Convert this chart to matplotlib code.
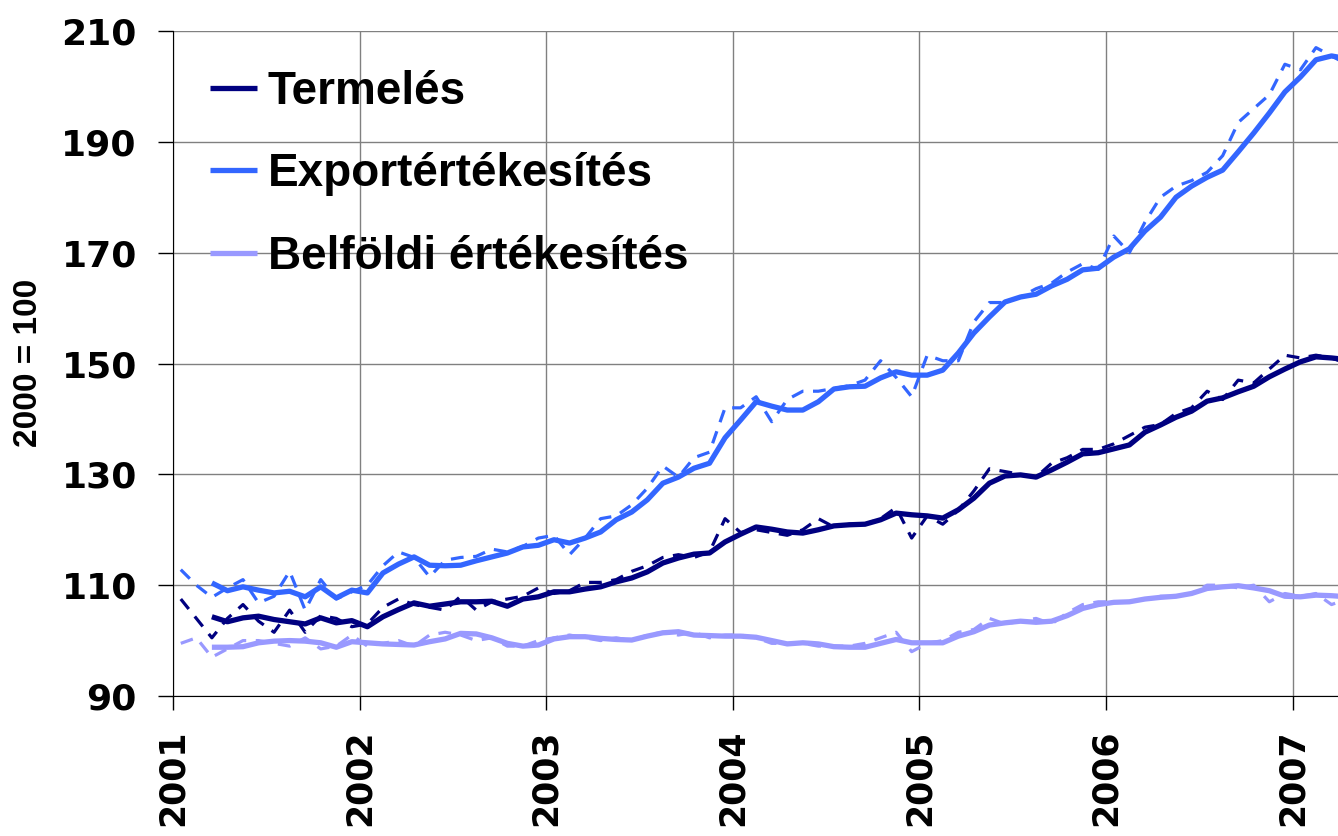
import numpy as np
import matplotlib
matplotlib.use("Agg")
import matplotlib.pyplot as plt

# monthly data, Jan 2001 .. Apr 2007 (index 2000 = 100)
start_year = 2001
trend_start = 2  # trend series begin in March 2001

termeles_raw = [107.5, 104.0, 100.5, 104.0, 106.5, 103.5, 101.5, 105.5, 101.5, 104.5, 104.0, 102.5,
                103.0, 106.0, 107.5, 106.5, 106.0, 105.5, 108.0, 105.5, 107.0, 107.5, 108.0, 109.5,
                108.5, 109.0, 110.5, 110.5, 111.0, 112.5, 113.5, 115.0, 115.5, 115.0, 116.0, 122.0,
                119.5, 120.0, 119.5, 119.0, 120.0, 122.0, 120.5, 121.0, 121.0, 122.0, 124.0, 118.5,
                122.5, 121.0, 123.5, 127.0, 131.0, 130.5, 130.0, 129.5, 132.0, 133.0, 134.5, 134.5,
                135.5, 137.0, 138.5, 139.0, 141.0, 142.0, 145.0, 143.5, 147.0, 146.5, 149.0, 151.5,
                151.0, 151.5, 151.0, 150.0]
export_raw = [112.8, 110.0, 107.8, 109.5, 111.0, 106.8, 108.0, 112.5, 105.5, 111.0, 107.5, 108.8,
              110.0, 113.5, 116.0, 115.0, 111.5, 114.5, 115.0, 115.2, 116.5, 116.0, 117.0, 118.5,
              119.0, 115.5, 118.5, 122.0, 122.5, 124.5, 127.5, 131.5, 129.5, 133.0, 134.0, 142.0,
              142.0, 144.0, 139.5, 143.5, 145.0, 145.0, 145.5, 146.0, 147.0, 150.5, 147.5, 144.0,
              151.5, 150.5, 150.5, 157.5, 161.0, 161.0, 162.0, 163.5, 164.5, 166.5, 168.0, 167.0,
              173.0, 170.0, 175.5, 180.0, 182.0, 183.0, 184.5, 187.5, 193.5, 196.0, 198.5, 204.0,
              203.0, 207.0, 205.5, 204.0]
belfoldi_raw = [99.5, 100.5, 97.0, 98.5, 100.0, 100.0, 99.5, 99.0, 100.5, 98.5, 99.0, 101.0,
                99.0, 99.5, 100.0, 99.0, 101.0, 101.5, 101.0, 100.0, 100.5, 99.0, 99.0, 100.0,
                100.5, 101.0, 100.5, 100.0, 100.5, 100.0, 101.0, 101.5, 101.0, 101.5, 100.5, 101.0,
                101.0, 100.5, 99.5, 99.5, 99.5, 99.0, 99.0, 99.0, 99.5, 100.5, 101.5, 98.0,
                99.5, 100.0, 101.5, 102.0, 104.0, 103.0, 103.5, 104.0, 103.0, 105.0, 106.5, 107.0,
                107.0, 107.0, 107.5, 108.0, 108.0, 108.5, 110.0, 110.0, 109.5, 110.0, 107.0, 108.5,
                108.0, 108.5, 106.5, 107.5]

termeles_trend = [104.3, 103.4, 104.1, 104.4, 103.8, 103.4, 103.0, 104.1, 103.2, 103.6,
                  102.5, 104.3, 105.6, 106.8, 106.2, 106.6, 107.0, 107.0, 107.1, 106.2, 107.5, 107.9,
                  108.8, 108.8, 109.3, 109.7, 110.6, 111.3, 112.4, 114.0, 114.9, 115.6, 115.8, 117.8,
                  119.2, 120.5, 120.1, 119.6, 119.4, 120.0, 120.7, 120.9, 121.0, 121.8, 123.0, 122.7,
                  122.5, 122.1, 123.6, 125.7, 128.4, 129.7, 129.9, 129.5, 130.8, 132.2, 133.7, 133.9,
                  134.6, 135.3, 137.6, 138.9, 140.3, 141.4, 143.2, 143.8, 144.9, 145.9, 147.6, 149.0,
                  150.3, 151.2, 151.0, 150.7]
export_trend = [110.4, 109.0, 109.7, 109.1, 108.6, 108.9, 107.9, 109.7, 107.7, 109.1,
                108.6, 112.2, 113.8, 115.1, 113.6, 113.5, 113.6, 114.4, 115.1, 115.8, 116.9, 117.2,
                118.2, 117.6, 118.5, 119.6, 121.8, 123.2, 125.4, 128.4, 129.5, 131.1, 132.0, 136.6,
                139.8, 143.1, 142.3, 141.6, 141.6, 143.1, 145.4, 145.8, 145.9, 147.4, 148.5, 147.9,
                147.9, 148.8, 151.9, 155.5, 158.4, 161.1, 162.0, 162.5, 164.0, 165.2, 166.9, 167.2,
                169.2, 170.7, 173.9, 176.4, 180.0, 182.0, 183.6, 184.9, 188.2, 191.6, 195.2, 199.0,
                201.7, 204.8, 205.5, 205.0]
belfoldi_trend = [98.8, 98.8, 98.9, 99.6, 99.9, 100.0, 99.9, 99.6, 98.8, 99.8,
                  99.6, 99.4, 99.3, 99.2, 99.8, 100.3, 101.3, 101.2, 100.5, 99.5, 99.0, 99.2,
                  100.3, 100.7, 100.7, 100.4, 100.2, 100.1, 100.8, 101.4, 101.6, 101.0, 100.9, 100.8,
                  100.8, 100.6, 100.0, 99.4, 99.6, 99.4, 98.9, 98.8, 98.8, 99.5, 100.2, 99.6,
                  99.6, 99.6, 100.8, 101.6, 102.8, 103.2, 103.5, 103.3, 103.5, 104.5, 105.8, 106.5,
                  106.9, 107.0, 107.5, 107.8, 108.0, 108.5, 109.4, 109.7, 109.9, 109.5, 109.0, 108.0,
                  107.9, 108.2, 108.1, 107.9]

labels = ["Termelés", "Exportértékesítés", "Belföldi értékesítés"]
colors = ["#000080", "#3366FF", "#9999FF"]
years = list(range(2001, 2008))

plt.rcParams['font.family'] = ['Liberation Sans', 'DejaVu Sans']
plt.rcParams['font.weight'] = 'bold'

W, H = 1338, 836
fig = plt.figure(figsize=(W / 100, H / 100), dpi=100)
ax = fig.add_axes([173 / W, 1 - 696 / H, (W - 173) / W, (696 - 31) / H])

raw_series = [termeles_raw, export_raw, belfoldi_raw]
trend_series = [termeles_trend, export_trend, belfoldi_trend]

# dotted raw data first, solid trend on top
for raw, col in zip(raw_series, colors):
    x = start_year + (np.arange(len(raw)) + 0.5) / 12
    ax.plot(x, raw, color=col, lw=2.3, linestyle=(0, (4, 3)), zorder=2)

for trend, col, lab in zip(trend_series, colors, labels):
    x = start_year + (np.arange(len(trend)) + trend_start + 0.5) / 12
    ax.plot(x, trend, color=col, lw=3.8, solid_capstyle='butt', label=lab, zorder=3)

ax.set_xlim(2001, 2007.243)
ax.set_ylim(90, 210)
ax.set_yticks(range(90, 211, 20))
ax.set_xticks(years)
ax.set_xticklabels([str(y) for y in years], rotation=90)
ax.tick_params(axis='y', length=11, width=1, direction='out', pad=15)
ax.tick_params(axis='x', length=10, width=1, direction='out', pad=14)
# tick labels are wide and bold in the original
for lab in ax.get_yticklabels():
    lab.set_fontfamily('DejaVu Sans')
    lab.set_fontweight('bold')
    lab.set_fontsize(26)
for lab in ax.get_xticklabels():
    lab.set_fontfamily('DejaVu Sans')
    lab.set_fontweight('bold')
    lab.set_fontsize(25)

ax.grid(True, color='#808080', lw=1)
ax.set_axisbelow(True)
for side in ['top', 'right']:
    ax.spines[side].set_visible(False)
ax.spines['left'].set_color('black')
ax.spines['bottom'].set_color('black')

fig.text(29 / W, 1 - 363 / H, "2000 = 100", rotation=90, fontsize=24,
         fontweight='bold', ha='center', va='center')

ax.legend(loc='upper left', bbox_to_anchor=(37 / 1165, (696 - 70) / 665), frameon=False,
          prop={'size': 33, 'weight': 'bold'}, handlelength=1.02, handletextpad=0.24,
          labelspacing=0.84, borderaxespad=0, borderpad=0)

fig.savefig("out.png", dpi=100)
